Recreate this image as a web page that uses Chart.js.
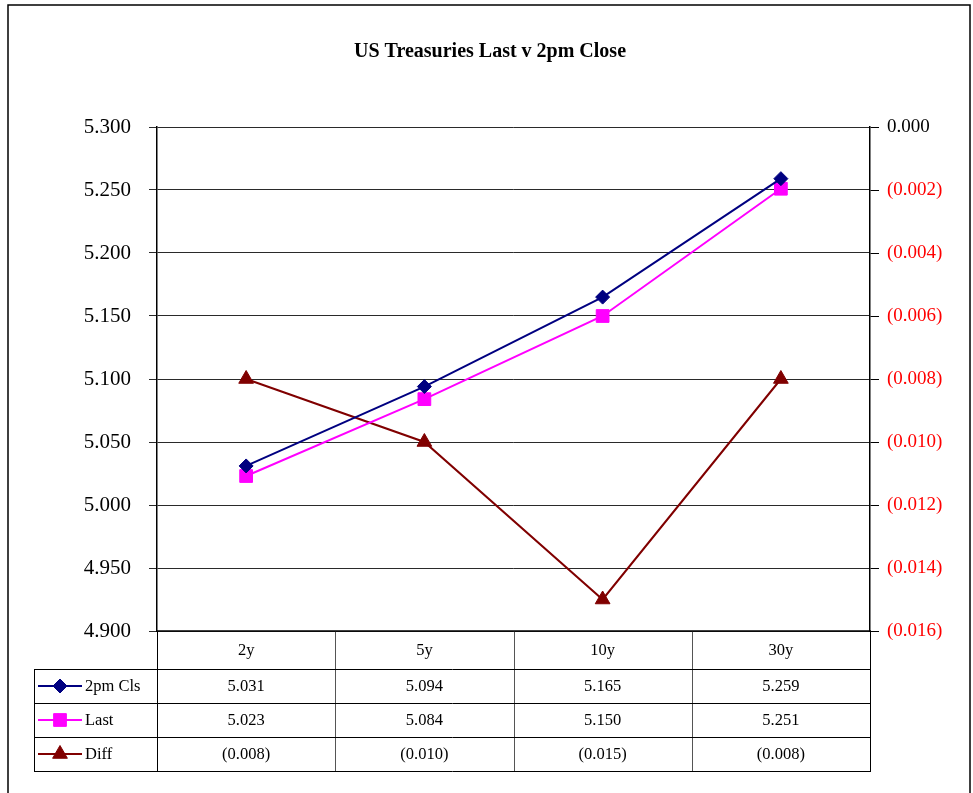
<!DOCTYPE html>
<html>
<head>
<meta charset="utf-8">
<script src="https://cdn.jsdelivr.net/npm/chart.js@4.4.1/dist/chart.umd.min.js"></script>
<style>
  html, body { margin: 0; padding: 0; background: #ffffff; }
  #wrap { width: 973px; height: 793px; position: relative; }
</style>
</head>
<body>
<div id="wrap"><canvas id="chart" width="973" height="793"></canvas></div>
<script>
// Curve points (tenor buckets) and yields
const tenors = ['2y', '5y', '10y', '30y'];
const close2pm = [5.031, 5.094, 5.165, 5.259];
const lastYield = [5.023, 5.084, 5.150, 5.251];
const diffYield = [-0.008, -0.010, -0.015, -0.008];

const seriesNames = ['2pm Cls', 'Last', 'Diff'];
const titleText = 'US Treasuries Last v 2pm Close';

const SERIF = '"Liberation Serif", "Times New Roman", serif';
const NAVY = '#000080';
const MAGENTA = '#FF00FF';
const MAROON = '#800000';

// Accounting-style format: negatives in brackets
function fmt3(v) {
  const a = Math.abs(v).toFixed(3);
  return v < -1e-9 ? '(' + a + ')' : a;
}

// Outer frame around the whole chart object
const framePlugin = {
  id: 'frame',
  beforeDraw(chart) {
    const ctx = chart.ctx;
    ctx.save();
    ctx.fillStyle = '#ffffff';
    ctx.fillRect(0, 0, chart.width, chart.height);
    ctx.strokeStyle = '#000000';
    ctx.lineWidth = 1.5;
    ctx.strokeRect(8, 5, 962, 820);
    ctx.restore();
  }
};

// Data table under the plot area, with legend keys in the first column
const tablePlugin = {
  id: 'dataTable',
  afterDraw(chart) {
    const ctx = chart.ctx;
    const area = chart.chartArea;
    const xs = chart.scales.x;
    const headerH = 38, rowH = 34;
    const tableLeft = 34;
    const top = area.bottom;
    const headBottom = top + headerH;
    const bottom = headBottom + rowH * 3;
    const n = tenors.length;
    const colW = (area.right - area.left) / n;

    ctx.save();
    // vertical dividers between tenor columns
    ctx.strokeStyle = '#555555';
    ctx.lineWidth = 1;
    for (let i = 1; i < n; i++) {
      const x = Math.round(area.left + colW * i) + 0.5;
      ctx.beginPath(); ctx.moveTo(x, top); ctx.lineTo(x, bottom); ctx.stroke();
    }
    ctx.strokeStyle = '#000000';
    // outer verticals
    [area.left, area.right].forEach(x0 => {
      const x = Math.round(x0) + 0.5;
      ctx.beginPath(); ctx.moveTo(x, top); ctx.lineTo(x, bottom); ctx.stroke();
    });
    ctx.beginPath(); ctx.moveTo(tableLeft + 0.5, headBottom); ctx.lineTo(tableLeft + 0.5, bottom); ctx.stroke();
    // horizontals
    ctx.lineWidth = 1.5;
    ctx.beginPath(); ctx.moveTo(area.left, top); ctx.lineTo(area.right + 1, top); ctx.stroke();
    ctx.lineWidth = 1;
    for (let r = 0; r <= 3; r++) {
      const y = Math.round(headBottom + rowH * r) + 0.5;
      ctx.beginPath(); ctx.moveTo(tableLeft, y); ctx.lineTo(area.right + 1, y); ctx.stroke();
    }

    // header: tenor labels
    ctx.fillStyle = '#000000';
    ctx.font = '16.5px ' + SERIF;
    ctx.textAlign = 'center';
    ctx.textBaseline = 'middle';
    tenors.forEach((t, i) => {
      ctx.fillText(t, xs.getPixelForValue(i), top + headerH / 2 + 1);
    });

    // value rows
    chart.data.datasets.forEach((ds, r) => {
      const cy = headBottom + rowH * r + rowH / 2 + 1;
      ds.data.forEach((v, i) => {
        ctx.textAlign = 'center';
        ctx.fillStyle = '#000000';
        ctx.fillText(fmt3(v), xs.getPixelForValue(i), cy);
      });
      // legend key
      ctx.strokeStyle = ds.borderColor;
      ctx.lineWidth = 2;
      ctx.beginPath(); ctx.moveTo(38, cy - 1); ctx.lineTo(82, cy - 1); ctx.stroke();
      ctx.fillStyle = ds.pointBackgroundColor;
      ctx.strokeStyle = ds.pointBorderColor;
      ctx.lineWidth = 1;
      Chart.helpers.drawPoint(ctx, {
        pointStyle: ds.pointStyle, radius: ds.pointRadius, rotation: 0, borderWidth: 1
      }, 60, cy - 1);
      ctx.fillStyle = '#000000';
      ctx.textAlign = 'left';
      ctx.font = '16.5px ' + SERIF;
      ctx.fillText(ds.label, 85, cy);
    });
    ctx.restore();
  }
};

const chart = new Chart(document.getElementById('chart'), {
  type: 'line',
  data: {
    labels: tenors,
    datasets: [
      {
        label: seriesNames[0], data: close2pm, yAxisID: 'y',
        borderColor: NAVY, backgroundColor: NAVY, borderWidth: 2,
        pointStyle: 'rectRot', pointRadius: 7,
        pointBackgroundColor: NAVY, pointBorderColor: NAVY, pointBorderWidth: 1,
        tension: 0
      },
      {
        label: seriesNames[1], data: lastYield, yAxisID: 'y',
        borderColor: MAGENTA, backgroundColor: MAGENTA, borderWidth: 2,
        pointStyle: 'rect', pointRadius: 9,
        pointBackgroundColor: MAGENTA, pointBorderColor: MAGENTA, pointBorderWidth: 1,
        tension: 0
      },
      {
        label: seriesNames[2], data: diffYield, yAxisID: 'y2',
        borderColor: MAROON, backgroundColor: MAROON, borderWidth: 2,
        pointStyle: 'triangle', pointRadius: 8.5,
        pointBackgroundColor: MAROON, pointBorderColor: MAROON, pointBorderWidth: 1,
        tension: 0
      }
    ]
  },
  options: {
    responsive: false,
    animation: false,
    devicePixelRatio: 1,
    layout: { padding: { left: 7, right: 0, top: 0, bottom: 162 } },
    plugins: {
      legend: { display: false },
      tooltip: { enabled: false },
      title: {
        display: true,
        text: titleText,
        color: '#000000',
        font: { family: SERIF, size: 20, weight: 'bold', lineHeight: 1.2 },
        padding: { top: 39.5, bottom: 63.5 }
      }
    },
    scales: {
      x: {
        type: 'category',
        offset: true,
        display: false
      },
      y: {
        position: 'left',
        min: 4.9,
        max: 5.3,
        afterFit(scale) { scale.width = 150; },
        ticks: {
          stepSize: 0.05,
          padding: 18,
          color: '#000000',
          font: { family: SERIF, size: 21 },
          callback: v => fmt3(v)
        },
        grid: {
          color: '#2a2a2a',
          lineWidth: 1,
          tickLength: 8,
          drawTicks: true
        },
        border: { display: true, color: '#000000', width: 1.5 }
      },
      y2: {
        position: 'right',
        min: -0.016,
        max: 0,
        afterFit(scale) { scale.width = 103; },
        ticks: {
          stepSize: 0.002,
          padding: 8,
          font: { family: SERIF, size: 19 },
          color: ctx => (ctx.tick && ctx.tick.value < -1e-9) ? '#FF0000' : '#000000',
          callback: v => fmt3(v)
        },
        grid: {
          drawOnChartArea: false,
          color: '#000000',
          tickLength: 9
        },
        border: { display: true, color: '#000000', width: 1.5 }
      }
    }
  },
  plugins: [framePlugin, tablePlugin]
});
</script>
</body>
</html>
